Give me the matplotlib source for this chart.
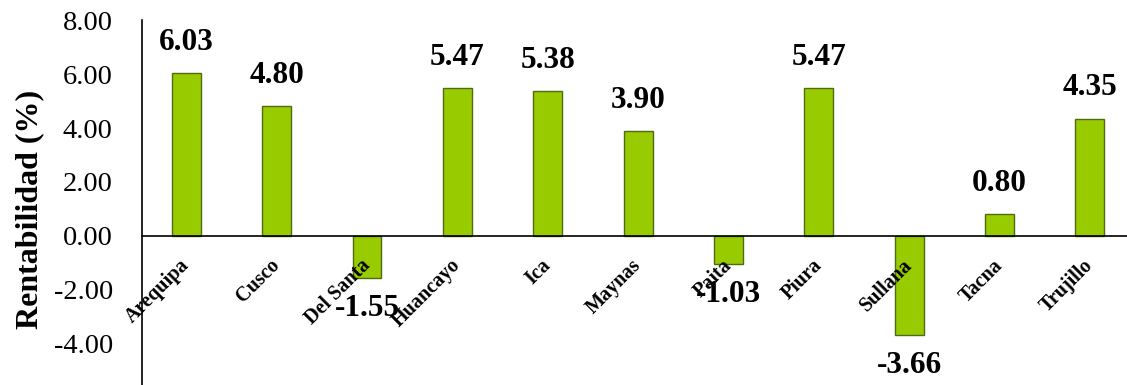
#! /usr/bin/env python3
"""Rentabilidad por caja municipal, bar chart with values."""

import matplotlib
matplotlib.use('Agg')
import matplotlib.pyplot as plt
import numpy as np

cajas = ['Arequipa', 'Cusco', 'Del Santa', 'Huancayo', 'Ica', 'Maynas',
         'Paita', 'Piura', 'Sullana', 'Tacna', 'Trujillo']
rentabilidad = [6.03, 4.80, -1.55, 5.47, 5.38, 3.90, -1.03, 5.47, -3.66, 0.80, 4.35]
y_ticks = [-4, -2, 0, 2, 4, 6, 8]


def main():
    plt.rcParams['font.family'] = ['Liberation Serif', 'DejaVu Serif']
    plt.rcParams['axes.unicode_minus'] = False

    fig = plt.figure(figsize=(11.27, 3.85), dpi=100)
    ax = fig.add_axes([0.126, 0.0, 0.874, 0.948])
    ax.set_axisbelow(False)  # category labels sit over the bars

    # spines first: moving a spine resets its axis ticks
    ax.spines['top'].set_visible(False)
    ax.spines['right'].set_visible(False)
    ax.spines['bottom'].set_position(('data', 0))
    ax.spines['bottom'].set_zorder(3)
    for s in ('left', 'bottom'):
        ax.spines[s].set_linewidth(1.2)

    x = np.arange(len(cajas))
    ax.bar(x, rentabilidad, width=0.32, color='#99cc00',
           edgecolor='#4d6b12', linewidth=1, zorder=2)

    for xi, v in zip(x, rentabilidad):
        off = 22 if v >= 0 else -22
        ax.annotate('{:.2f}'.format(v), (xi, v), xytext=(0, off),
                    textcoords='offset points', ha='center', va='center',
                    fontsize=22.5, fontweight='bold', zorder=4)

    ax.set_xlim(-0.49, 10.41)
    ax.set_ylim(-5.52, 8.0)
    ax.set_yticks(y_ticks)
    ax.set_yticklabels(['{:.2f}'.format(t) for t in y_ticks], fontsize=20.5)
    ax.tick_params(axis='y', length=0, pad=21)

    ax.set_xticks(x)
    ax.set_xticklabels(cajas, rotation=45, ha='right', va='center',
                       rotation_mode='anchor', fontsize=14.5, fontweight='bold')
    ax.tick_params(axis='x', length=0, pad=19)

    fig.text(0.026, 0.455, 'Rentabilidad (%)', rotation=90, ha='center',
             va='center', fontsize=23, fontweight='bold')

    fig.savefig('out.png', dpi=100)


if __name__ == "__main__":
    main()
